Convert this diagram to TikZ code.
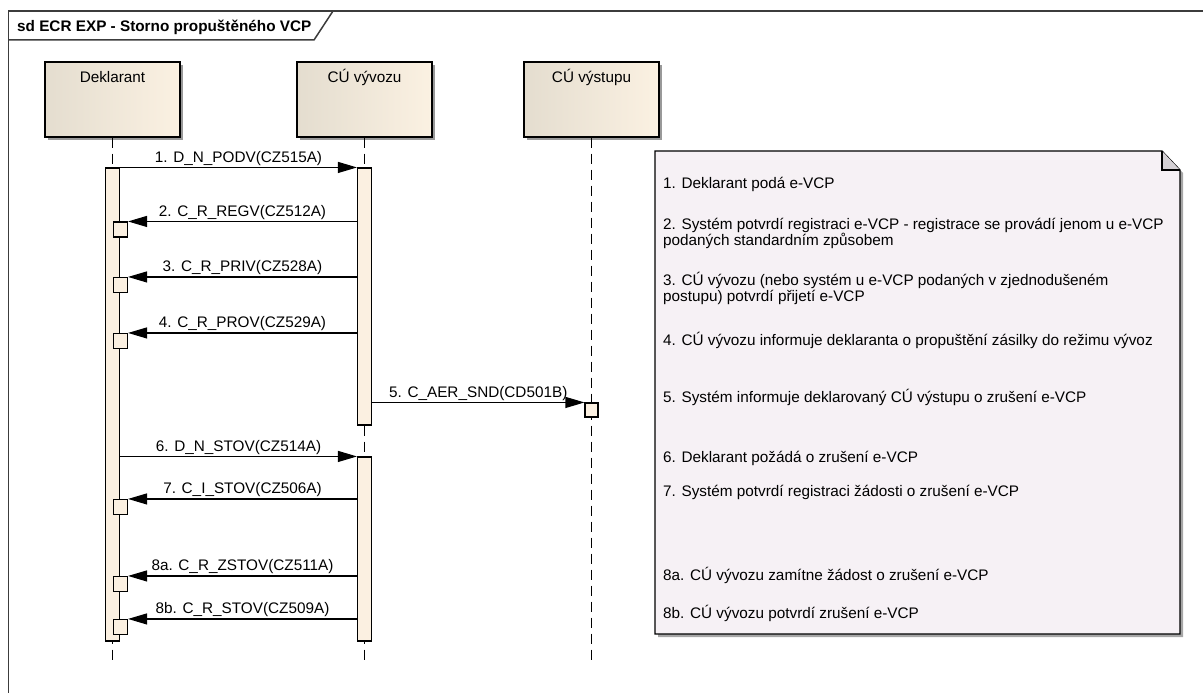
\documentclass[tikz,border=0pt]{standalone}
\usepackage{fontspec}
\setmainfont{Liberation Sans}
\usetikzlibrary{arrows.meta,shadows}

\definecolor{headleft}{RGB}{228,221,207}
\definecolor{headright}{RGB}{251,241,226}
\definecolor{barfill}{RGB}{251,240,225}
\definecolor{notefill}{RGB}{246,241,245}
\definecolor{foldfill}{RGB}{212,208,212}
\definecolor{framegray}{RGB}{60,60,60}

\begin{document}
\begin{tikzpicture}[line cap=butt,line join=miter,>={Triangle[length=19pt,width=11pt]},x=1pt,y=-1pt,
  every node/.style={font=\fontsize{15.3}{16}\selectfont},
  lifehead/.style={draw,line width=1.2pt,minimum width=135pt,inner xsep=0pt,inner ysep=0pt,
    text height=20pt,text depth=55pt,left color=headleft,right color=headright,
    drop shadow={shadow xshift=3pt,shadow yshift=-3pt,fill=black!40,opacity=1}},
  lifeline/.style={line width=1.1pt,dash pattern=on 10pt off 6pt},
  actbar/.style={draw,fill=barfill,line width=1.1pt,minimum width=14pt,inner sep=0pt},
  retbox/.style={actbar,minimum height=15pt},
  msg/.style={->,line width=1.1pt},
  msglbl/.style={anchor=base,yshift=5pt,inner sep=0pt},
  notebody/.style={draw=black,fill=notefill,line width=1.2pt,
    drop shadow={shadow xshift=3pt,shadow yshift=-3pt,fill=black!35,opacity=1}},
  notetxt/.style={anchor=base west,inner sep=0pt,align=left}]
\useasboundingbox (0,0) rectangle (1203,693);

% frame and title tab
\draw[framegray,line width=1.5pt] (1203,11) -- (8.5,11) -- (8.5,693);
\draw[framegray,line width=1.5pt] (8.5,40) -- (314,40) -- (333,11);
\node[anchor=base west,inner sep=0pt,font=\fontsize{15.3}{16}\selectfont\bfseries] (title) at (17,31.5) {sd ECR EXP - Storno propuštěného VCP};

% lifelines
\node[lifehead] (dek) at (112.5,99.5) {Deklarant};
\node[lifehead] (vyvoz) at (364.5,99.5) {CÚ vývozu};
\node[lifehead] (vystup) at (591.5,99.5) {CÚ výstupu};
\coordinate (dekEnd) at (112.5,663);
\coordinate (vyvozEnd) at (364.5,663);
\coordinate (vystupEnd) at (591.5,663);
\draw[lifeline] (dek.south) -- (dekEnd);
\draw[lifeline] (vyvoz.south) -- (vyvozEnd);
\draw[lifeline] (vystup.south) -- (vystupEnd);

% activations
\node[actbar,minimum height=473pt] (dbar) at (112.5,404.5) {};
\node[actbar,minimum height=257pt] (vbar1) at (364.5,296.5) {};
\node[actbar,minimum height=184pt] (vbar2) at (364.5,549) {};
\node[retbox] (r2) at (120.5,229.5) {};
\node[retbox] (r3) at (120.5,285) {};
\node[retbox] (r4) at (120.5,341) {};
\node[retbox,minimum width=13pt,minimum height=14pt] (r5) at (591.5,410) {};
\node[retbox] (r7) at (120.5,507) {};
\node[retbox] (r8a) at (120.5,584) {};
\node[retbox] (r8b) at (120.5,627) {};

% messages
\draw[msg] (dbar.north east) -- node[msglbl] {1. D\_N\_PODV(CZ515A)} (vbar1.north west);
\draw[msg] (vbar1.west |- r2.north) -- node[msglbl] {2. C\_R\_REGV(CZ512A)} (r2.north east);
\draw[msg] (vbar1.west |- r3.north) -- node[msglbl] {3. C\_R\_PRIV(CZ528A)} (r3.north east);
\draw[msg] (vbar1.west |- r4.north) -- node[msglbl] {4. C\_R\_PROV(CZ529A)} (r4.north east);
\draw[msg] (vbar1.east |- r5.north) -- node[msglbl] {5. C\_AER\_SND(CD501B)} (r5.north west);
\draw[msg] (dbar.east |- vbar2.north) -- node[msglbl] {6. D\_N\_STOV(CZ514A)} (vbar2.north west);
\draw[msg] (vbar2.west |- r7.north) -- node[msglbl] {7. C\_I\_STOV(CZ506A)} (r7.north east);
\draw[msg] (vbar2.west |- r8a.north) -- node[msglbl] {8a. C\_R\_ZSTOV(CZ511A)} (r8a.north east);
\draw[msg] (vbar2.west |- r8b.north) -- node[msglbl] {8b. C\_R\_STOV(CZ509A)} (r8b.north east);

% note (base of two-line items = last line)
\filldraw[notebody] (655,151) -- (1162,151) -- (1180,170) -- (1180,634) -- (655,634) -- cycle;
\filldraw[draw=black,fill=foldfill,line width=1.1pt] (1162,151) -- (1162,170) -- (1180,170);
\node[notetxt] (n1) at (663,188.5) {1. Deklarant podá e-VCP};
\node[notetxt] (n2) at (663,245.5) {2. Systém potvrdí registraci e-VCP - registrace se provádí jenom u e-VCP\\podaných standardním způsobem};
\node[notetxt] (n3) at (663,301.5) {3. CÚ vývozu (nebo systém u e-VCP podaných v zjednodušeném\\postupu) potvrdí přijetí e-VCP};
\node[notetxt] (n4) at (663,345.5) {4. CÚ vývozu informuje deklaranta o propuštění zásilky do režimu vývoz};
\node[notetxt] (n5) at (663,402.5) {5. Systém informuje deklarovaný CÚ výstupu o zrušení e-VCP};
\node[notetxt] (n6) at (663,462.5) {6. Deklarant požádá o zrušení e-VCP};
\node[notetxt] (n7) at (663,496.5) {7. Systém potvrdí registraci žádosti o zrušení e-VCP};
\node[notetxt] (n8a) at (663,580.5) {8a. CÚ vývozu zamítne žádost o zrušení e-VCP};
\node[notetxt] (n8b) at (663,618.5) {8b. CÚ vývozu potvrdí zrušení e-VCP};
\end{tikzpicture}
\end{document}
